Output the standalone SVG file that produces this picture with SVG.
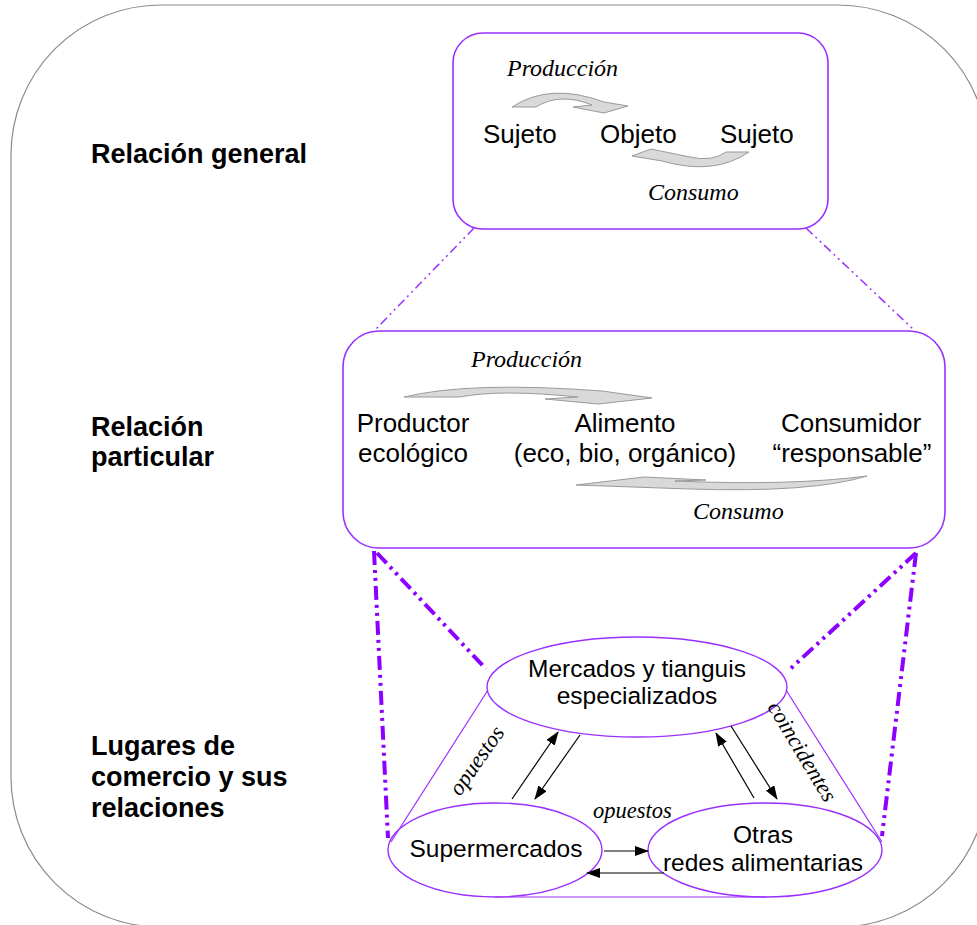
<svg xmlns="http://www.w3.org/2000/svg" width="977" height="925" viewBox="0 0 977 925">
  <style>
    .frame { fill: none; stroke: #8a8a8a; stroke-width: 1.2; }
    .box { fill: #ffffff; stroke: #9a30ff; stroke-width: 1.6; }
    .ell { fill: #ffffff; stroke: #9a30ff; stroke-width: 1.4; }
    .cone { fill: none; stroke: #9a30ff; stroke-width: 1.2; }
    .thin-dash { fill: none; stroke: #9a30ff; stroke-width: 1.5; stroke-dasharray: 9 4 2 4 2 4; }
    .thick-dash { fill: none; stroke: #8c00ff; stroke-width: 4; stroke-dasharray: 14 5 3 5 3 5; }
    .flow { fill: #d9d9d9; stroke: #9a9a9a; stroke-width: 1; }
    .link { fill: none; stroke: #000000; stroke-width: 1.2; }
    .head { font-family: "Liberation Sans", Arial, sans-serif; font-weight: bold; font-size: 27px; fill: #000; }
    .lbl { font-family: "Liberation Sans", Arial, sans-serif; font-size: 26px; fill: #000; }
    .lbl2 { font-family: "Liberation Sans", Arial, sans-serif; font-size: 24.5px; fill: #000; }
    .it { font-family: "Liberation Serif", "Times New Roman", serif; font-style: italic; font-size: 24px; fill: #000; }
    .it2 { font-family: "Liberation Serif", "Times New Roman", serif; font-style: italic; font-size: 22.5px; fill: #000; }
  </style>
  <defs>
    <marker id="arr" viewBox="0 0 14 10" refX="13" refY="5" markerWidth="14" markerHeight="10" markerUnits="userSpaceOnUse" orient="auto">
      <path d="M0,0 L14,5 L0,10 Z" fill="#000"/>
    </marker>
  </defs>

  <rect width="977" height="925" fill="#ffffff"/>
  <!-- outer frame -->
  <rect class="frame" x="11" y="5" width="977" height="922" rx="150" ry="150"/>

  <!-- row titles -->
  <g id="title-general">
    <text class="head" x="91" y="163">Relación general</text>
  </g>
  <g id="title-particular">
    <text class="head" x="91" y="436">Relación</text>
    <text class="head" x="91" y="466">particular</text>
  </g>
  <g id="title-lugares">
    <text class="head" x="91" y="755">Lugares de</text>
    <text class="head" x="91" y="786">comercio y sus</text>
    <text class="head" x="91" y="817">relaciones</text>
  </g>

  <!-- general relation box -->
  <g id="node-general">
    <rect class="box" x="453" y="33" width="375" height="196" rx="30" ry="30"/>
    <text class="it" x="507" y="76">Producción</text>
    <path class="flow" d="M512,107 Q550,82 604,102 L628,106 L604,113 L573,107 L592,105 Q560,92 536,107 Z"/>
    <text class="lbl" x="483" y="143">Sujeto</text>
    <text class="lbl" x="600" y="143">Objeto</text>
    <text class="lbl" x="720" y="143">Sujeto</text>
    <path class="flow" d="M749,152 Q714,176 662,161 L632,156 L651,149 L690,157 Q712,162 726,152 Z"/>
    <text class="it" x="648" y="200">Consumo</text>
  </g>

  <!-- particular relation box -->
  <g id="node-particular">
    <rect class="box" x="343" y="331" width="602" height="217" rx="36" ry="36"/>
    <text class="it" x="471" y="367">Producción</text>
    <path class="flow" d="M404,397 Q470,381 602,391 L652,398 L598,404 L545,399 L578,397 Q500,389 460,397 Z"/>
    <text class="lbl" x="413" y="432" text-anchor="middle">Productor</text>
    <text class="lbl" x="413" y="462" text-anchor="middle">ecológico</text>
    <text class="lbl" x="625" y="432" text-anchor="middle">Alimento</text>
    <text class="lbl" x="625" y="462" text-anchor="middle">(eco, bio, orgánico)</text>
    <text class="lbl" x="851" y="432" text-anchor="middle">Consumidor</text>
    <text class="lbl" x="852" y="462" text-anchor="middle">“responsable”</text>
    <path class="flow" d="M867,476 Q812,493 690,489 L576,485 L644,477 L706,480 L675,481 Q790,486 867,476 Z"/>
    <text class="it" x="693" y="519">Consumo</text>
  </g>

  <!-- places of trade -->
  <g id="node-mercados">
    <ellipse class="ell" cx="637" cy="687" rx="150" ry="50"/>
    <text class="lbl2" x="637" y="677" text-anchor="middle">Mercados y tianguis</text>
    <text class="lbl2" x="637" y="704" text-anchor="middle">especializados</text>
  </g>
  <g id="node-super">
    <ellipse class="ell" cx="495" cy="850" rx="107" ry="47"/>
    <text class="lbl2" x="496" y="857" text-anchor="middle">Supermercados</text>
  </g>
  <g id="node-otras">
    <ellipse class="ell" cx="765" cy="850" rx="117" ry="47"/>
    <text class="lbl2" x="763" y="843" text-anchor="middle">Otras</text>
    <text class="lbl2" x="763" y="871" text-anchor="middle">redes alimentarias</text>
  </g>

  <!-- connectors -->
  <g id="connectors">
    <line class="thin-dash" x1="474" y1="228" x2="375" y2="330"/>
    <line class="thin-dash" x1="806" y1="228" x2="914" y2="330"/>
    <line class="thick-dash" x1="374" y1="551" x2="388" y2="838"/>
    <line class="thick-dash" x1="377" y1="553" x2="486" y2="669"/>
    <line class="thick-dash" x1="916" y1="553" x2="788" y2="671"/>
    <line class="thick-dash" x1="916" y1="553" x2="882" y2="836"/>
    <line class="cone" x1="488" y1="690" x2="391" y2="842"/>
    <line class="cone" x1="786" y1="690" x2="882" y2="842"/>
    <line class="cone" x1="495" y1="897" x2="766" y2="897"/>
    <line class="link" x1="512" y1="799" x2="558" y2="732" marker-end="url(#arr)"/>
    <line class="link" x1="580" y1="735" x2="535" y2="799" marker-end="url(#arr)"/>
    <line class="link" x1="754" y1="798" x2="716" y2="733" marker-end="url(#arr)"/>
    <line class="link" x1="731" y1="726" x2="777" y2="799" marker-end="url(#arr)"/>
    <line class="link" x1="604" y1="851" x2="648" y2="851" marker-end="url(#arr)"/>
    <line class="link" x1="664" y1="873" x2="587" y2="873" marker-end="url(#arr)"/>
    <text class="it2" font-size="24" transform="translate(460,797) rotate(-55)">opuestos</text>
    <text class="it2" x="593" y="818">opuestos</text>
    <text class="it2" transform="translate(767,707) rotate(59)">coincidentes</text>
  </g>
</svg>
